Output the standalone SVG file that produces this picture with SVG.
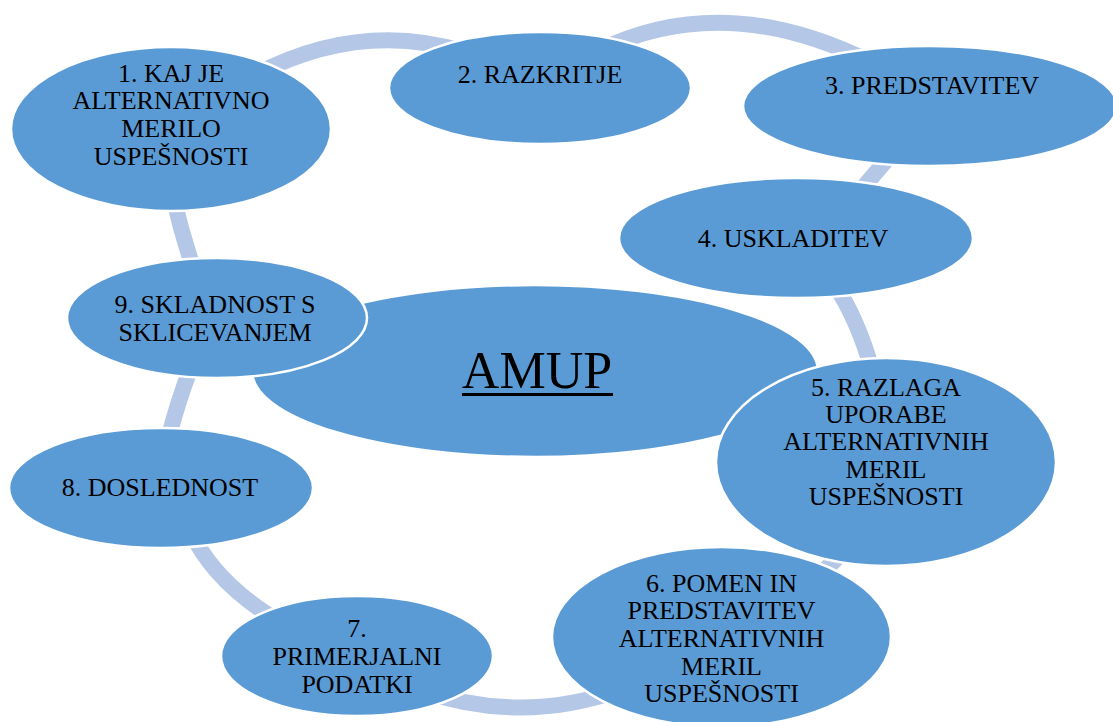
<svg xmlns="http://www.w3.org/2000/svg" width="1113" height="722" viewBox="0 0 1113 722">
<style>
.n{fill:#5B9BD5;stroke:#FFFFFF;stroke-width:2.5}
.t{font-family:"Liberation Serif","Times New Roman",serif;font-size:26px;fill:#000;text-anchor:middle}
.c{fill:none;stroke:#B4C7E7;stroke-width:16}
</style>
<rect width="1113" height="722" fill="#FFFFFF"/>
<g id="connectors">
<path class="c" d="M 255 75 Q 360 20 465 52"/>
<path class="c" d="M 600 50 Q 725 -10 870 62"/>
<path class="c" d="M 895 150 L 855 197"/>
<path class="c" d="M 835 285 Q 858 320 872 370"/>
<path class="c" d="M 845 550 L 815 580"/>
<path class="c" d="M 420 690 Q 520 725 620 690"/>
<path class="c" d="M 190 530 Q 215 585 285 625"/>
<path class="c" d="M 192 365 Q 178 400 168 440"/>
<path class="c" d="M 174 200 Q 182 235 194 270"/>
</g>
<g id="center">
<ellipse class="n" cx="535" cy="371" rx="283" ry="86"/>
<text class="t" x="537" y="388" style="font-size:52px">AMUP</text>
<rect x="462" y="393" width="151" height="3" fill="#000"/>
</g>
<g id="node1">
<ellipse class="n" cx="171" cy="129" rx="160" ry="82"/>
<text class="t" x="171" y="82">1. KAJ JE</text>
<text class="t" x="171" y="109">ALTERNATIVNO</text>
<text class="t" x="171" y="137">MERILO</text>
<text class="t" x="171" y="165">USPEŠNOSTI</text>
</g>
<g id="node2">
<ellipse class="n" cx="540" cy="88" rx="151" ry="56"/>
<text class="t" x="540" y="83">2. RAZKRITJE</text>
</g>
<g id="node3">
<ellipse class="n" cx="930" cy="106" rx="187" ry="60"/>
<text class="t" x="932" y="94">3. PREDSTAVITEV</text>
</g>
<g id="node4">
<ellipse class="n" cx="796" cy="238" rx="177" ry="60"/>
<text class="t" x="793" y="247">4. USKLADITEV</text>
</g>
<g id="node5">
<ellipse class="n" cx="886" cy="462" rx="170" ry="104"/>
<text class="t" x="886" y="396">5. RAZLAGA</text>
<text class="t" x="886" y="423">UPORABE</text>
<text class="t" x="886" y="450">ALTERNATIVNIH</text>
<text class="t" x="886" y="478">MERIL</text>
<text class="t" x="886" y="505">USPEŠNOSTI</text>
</g>
<g id="node6">
<ellipse class="n" cx="721.5" cy="637" rx="169.5" ry="90"/>
<text class="t" x="721.5" y="592">6. POMEN IN</text>
<text class="t" x="721.5" y="619">PREDSTAVITEV</text>
<text class="t" x="721.5" y="647">ALTERNATIVNIH</text>
<text class="t" x="721.5" y="675">MERIL</text>
<text class="t" x="721.5" y="702">USPEŠNOSTI</text>
</g>
<g id="node7">
<ellipse class="n" cx="357" cy="656" rx="136" ry="60"/>
<text class="t" x="357" y="637">7.</text>
<text class="t" x="357" y="665">PRIMERJALNI</text>
<text class="t" x="357" y="693">PODATKI</text>
</g>
<g id="node8">
<ellipse class="n" cx="161" cy="488" rx="152" ry="60"/>
<text class="t" x="160" y="496">8. DOSLEDNOST</text>
</g>
<g id="node9">
<ellipse class="n" cx="217" cy="318" rx="150" ry="60"/>
<text class="t" x="215" y="313">9. SKLADNOST S</text>
<text class="t" x="215" y="341">SKLICEVANJEM</text>
</g>
</svg>
